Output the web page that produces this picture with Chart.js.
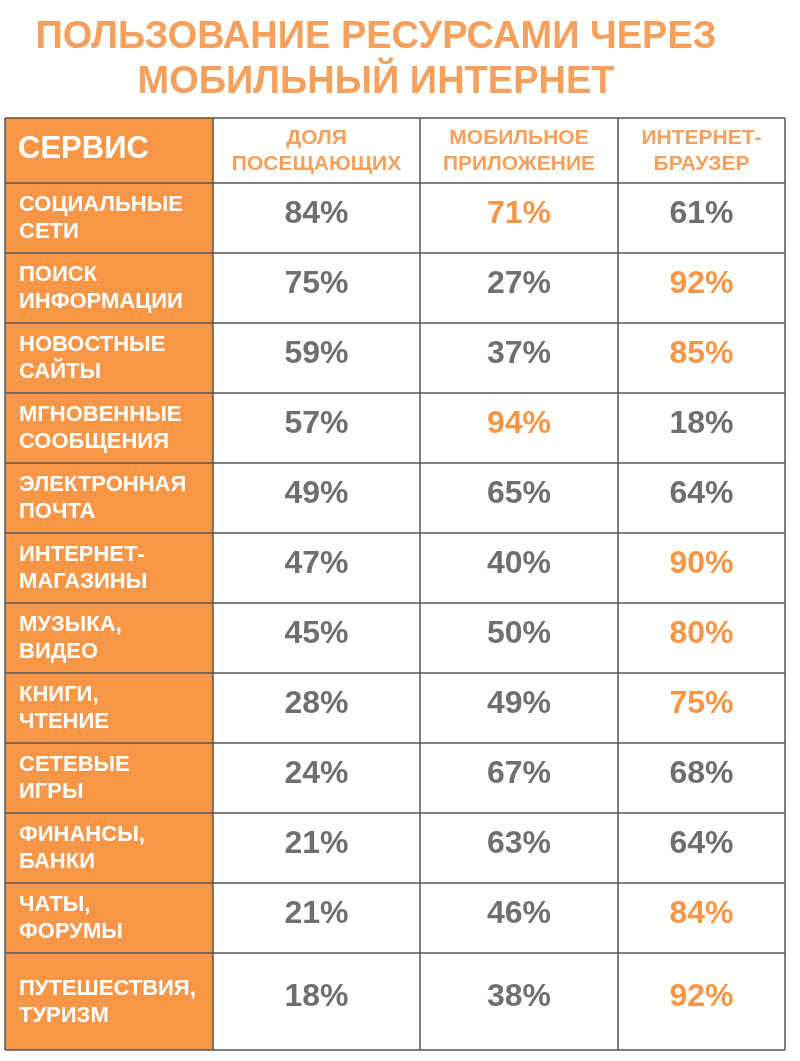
<!DOCTYPE html>
<html><head><meta charset="utf-8">
<script src="https://cdn.jsdelivr.net/npm/chart.js@4"></script>
<style>html,body{margin:0;background:#fff}#wrap{width:800px;height:1061px}</style>
</head><body><div id="wrap"><canvas id="c"></canvas></div>
<script>
const titleLines = ['ПОЛЬЗОВАНИЕ РЕСУРСАМИ ЧЕРЕЗ', 'МОБИЛЬНЫЙ ИНТЕРНЕТ'];
const headers = [['СЕРВИС'], ['ДОЛЯ', 'ПОСЕЩАЮЩИХ'], ['МОБИЛЬНОЕ', 'ПРИЛОЖЕНИЕ'], ['ИНТЕРНЕТ-', 'БРАУЗЕР']];
const services = [['СОЦИАЛЬНЫЕ','СЕТИ'],['ПОИСК','ИНФОРМАЦИИ'],['НОВОСТНЫЕ','САЙТЫ'],['МГНОВЕННЫЕ','СООБЩЕНИЯ'],
  ['ЭЛЕКТРОННАЯ','ПОЧТА'],['ИНТЕРНЕТ-','МАГАЗИНЫ'],['МУЗЫКА,','ВИДЕО'],['КНИГИ,','ЧТЕНИЕ'],['СЕТЕВЫЕ','ИГРЫ'],
  ['ФИНАНСЫ,','БАНКИ'],['ЧАТЫ,','ФОРУМЫ'],['ПУТЕШЕСТВИЯ,','ТУРИЗМ']];
const visitors = [84, 75, 59, 57, 49, 47, 45, 28, 24, 21, 21, 18];
const mobileApp = [71, 27, 37, 94, 65, 40, 50, 49, 67, 63, 46, 38];
const browser = [61, 92, 85, 18, 64, 90, 80, 75, 68, 64, 84, 92];
// 1 = mobile app highlighted, 2 = browser highlighted, 0 = none
const highlight = [1, 2, 2, 1, 0, 2, 2, 2, 0, 0, 2, 2];

const ORANGE = '#F79646', GRAY = '#6f6f6f', TITLE = '#F5A05C';
const colEdges = [0, 208, 415, 613, 780];
const rowEdges = [0, 65];
services.forEach((s, i) => rowEdges.push(rowEdges[rowEdges.length - 1] + (i === services.length - 1 ? 97 : 70)));

const points = [];
[visitors, mobileApp, browser].forEach((col, c) => col.forEach((v, r) => {
  points.push({x: (colEdges[c + 1] + colEdges[c + 2]) / 2, y: (rowEdges[r + 1] + rowEdges[r + 2]) / 2, v, c, r});
}));

const tablePlugin = {
  id: 'table',
  afterDraw(chart) {
    const ctx = chart.ctx, xs = chart.scales.x, ys = chart.scales.y;
    const X = v => xs.getPixelForValue(v), Y = v => ys.getPixelForValue(v);
    ctx.save();
    // title
    ctx.fillStyle = TITLE; ctx.textAlign = 'center'; ctx.textBaseline = 'middle';
    ctx.font = 'bold 38px "Liberation Sans", Arial, sans-serif';
    ctx.fillText(titleLines[0], 376, 38);
    ctx.fillText(titleLines[1], 376, 83);
    // orange first column
    ctx.fillStyle = ORANGE;
    ctx.fillRect(X(colEdges[0]), Y(rowEdges[0]), X(colEdges[1]) - X(colEdges[0]), Y(rowEdges[rowEdges.length - 1]) - Y(rowEdges[0]));
    // grid
    ctx.strokeStyle = '#555'; ctx.lineWidth = 1.5;
    colEdges.forEach(e => { ctx.beginPath(); ctx.moveTo(X(e), Y(rowEdges[0])); ctx.lineTo(X(e), Y(rowEdges[rowEdges.length - 1])); ctx.stroke(); });
    rowEdges.forEach(e => { ctx.beginPath(); ctx.moveTo(X(colEdges[0]), Y(e)); ctx.lineTo(X(colEdges[4]), Y(e)); ctx.stroke(); });
    // headers
    ctx.fillStyle = '#fff'; ctx.textAlign = 'left';
    ctx.font = 'bold 31px "Liberation Sans", Arial, sans-serif';
    ctx.fillText(headers[0][0], X(colEdges[0]) + 13, Y(31));
    ctx.fillStyle = TITLE; ctx.textAlign = 'center';
    ctx.font = 'bold 21px "Liberation Sans", Arial, sans-serif';
    for (let c = 1; c < 4; c++) {
      const cx = X((colEdges[c] + colEdges[c + 1]) / 2);
      ctx.fillText(headers[c][0], cx, Y(20));
      ctx.fillText(headers[c][1], cx, Y(46));
    }
    // service labels
    ctx.fillStyle = '#fff'; ctx.textAlign = 'left';
    ctx.font = 'bold 22px "Liberation Sans", Arial, sans-serif';
    services.forEach((s, r) => {
      const mid = (rowEdges[r + 1] + rowEdges[r + 2]) / 2;
      ctx.fillText(s[0], X(colEdges[0]) + 14, Y(mid - 13));
      ctx.fillText(s[1], X(colEdges[0]) + 14, Y(mid + 14));
    });
    // values
    ctx.textAlign = 'center';
    ctx.font = 'bold 32px "Liberation Sans", Arial, sans-serif';
    chart.data.datasets[0].data.forEach(p => {
      ctx.fillStyle = (highlight[p.r] === p.c && p.c > 0) ? ORANGE : GRAY;
      ctx.fillText(p.v + '%', X(p.x), Y(p.y - 4));
    });
    ctx.restore();
  }
};

new Chart(document.getElementById('c'), {
  type: 'scatter',
  data: { datasets: [{ data: points, pointRadius: 0 }] },
  options: {
    responsive: true, maintainAspectRatio: false, animation: false,
    layout: { padding: { top: 118, left: 5, right: 15, bottom: 11 } },
    plugins: { legend: { display: false }, tooltip: { enabled: false } },
    scales: {
      x: { type: 'linear', min: 0, max: 780, display: false },
      y: { type: 'linear', min: 0, max: rowEdges[rowEdges.length - 1], reverse: true, display: false }
    }
  },
  plugins: [tablePlugin]
});
</script></body></html>
